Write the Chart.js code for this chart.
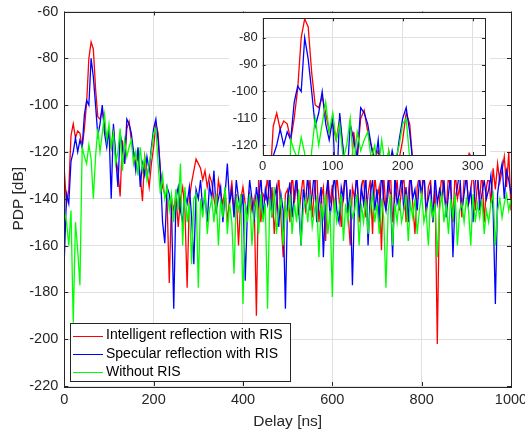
<!DOCTYPE html>
<html>
<head>
<meta charset="utf-8">
<script src="https://cdn.jsdelivr.net/npm/chart.js@4.4.1/dist/chart.umd.min.js"></script>
<style>
  html, body { margin: 0; padding: 0; background: #fff; }
  #wrap { position: relative; width: 525px; height: 435px; }
  #mainChart { position: absolute; left: 0; top: 0; }
  #insetChart { position: absolute; left: 229px; top: 13px; background: #fff; }
</style>
</head>
<body>
<div id="wrap">
  <canvas id="mainChart" width="525" height="435"></canvas>
  <canvas id="insetChart" width="261" height="167"></canvas>
</div>
<script>
// PDP samples every 5 ns, 0 .. 1000 ns
const sampleStep = 5;
const seriesNames = ['Intelligent reflection with RIS', 'Specular reflection with RIS', 'Without RIS'];
const seriesColors = ['#ff0000', '#0000ff', '#00ff00'];
const xTicks = [0, 200, 400, 600, 800, 1000];
const yTicks = [-220, -200, -180, -160, -140, -120, -100, -80, -60];
const insetXTicks = [0, 100, 200, 300];
const insetYTicks = [-120, -110, -100, -90, -80];

const pdpIntelligent = [
  -128, -142, -136, -113, -108, -114, -111, -112, -118, -110,
  -99, -80, -73, -76, -93, -105, -106, -102, -108, -115,
  -112, -118, -110, -122, -128, -139, -115, -125, -110, -107,
  -115, -120, -125, -122, -130, -141, -122, -128, -135, -125,
  -118, -108, -112, -128, -135, -138, -140, -176, -140, -145,
  -138, -152, -140, -135, -145, -178, -140, -133, -128, -123,
  -125, -127, -132, -128, -135, -130, -133, -140, -145, -132,
  -138, -142, -136, -150, -140, -133, -145, -138, -160, -140,
  -135, -142, -148, -138, -145, -140, -190, -132, -150, -138,
  -140, -130, -145, -135, -155, -142, -130, -148, -165, -138,
  -136, -150, -128, -142, -133, -147, -138, -130, -145, -140,
  -132, -148, -136, -128, -150, -140, -135, -158, -130, -142,
  -134, -146, -130, -140, -152, -136, -128, -145, -160, -135,
  -140, -128, -150, -136, -130, -148, -138, -132, -155, -130,
  -140, -135, -162, -130, -145, -138, -128, -150, -140, -132,
  -145, -136, -130, -150, -138, -128, -142, -155, -135, -130,
  -140, -128, -148, -135, -132, -150, -135, -202, -140, -130,
  -138, -145, -130, -136, -150, -128, -140, -135, -148, -132,
  -130, -142, -136, -128, -145, -133, -140, -128, -150, -135,
  -130, -142, -127, -136, -125, -133, -128, -122, -135, -120, -145
];

const pdpSpecular = [
  -166, -138, -142, -124, -120, -114, -120, -115, -118, -104,
  -98, -100, -80, -88, -100, -113, -108, -100, -112, -118,
  -110, -140, -108, -122, -135, -112, -118, -125, -106, -108,
  -112, -120, -128, -118, -135, -125, -130, -122, -128, -118,
  -110, -106, -115, -128, -150, -159, -135, -138, -145, -187,
  -140, -135, -145, -150, -138, -142, -135, -148, -168, -136,
  -140, -132, -145, -138, -150, -134, -140, -128, -145, -140,
  -135, -150, -138, -125, -142, -136, -148, -132, -140, -145,
  -138, -175, -145, -132, -140, -150, -135, -142, -130, -148,
  -136, -142, -130, -148, -140, -135, -152, -138, -145, -187,
  -140, -133, -148, -138, -130, -145, -160, -136, -142, -130,
  -145, -138, -128, -150, -142, -135, -165, -140, -132, -148,
  -138, -130, -145, -150, -135, -140, -128, -146, -136, -177,
  -140, -130, -148, -135, -142, -130, -160, -138, -132, -145,
  -136, -150, -128, -140, -145, -132, -138, -165, -130, -142,
  -138, -130, -145, -135, -150, -128, -140, -136, -145, -132,
  -138, -128, -145, -140, -135, -150, -130, -142, -136, -140,
  -132, -148, -138, -130, -165, -140, -135, -128, -145, -138,
  -130, -142, -136, -150, -133, -128, -145, -138, -132, -140,
  -136, -130, -145, -185, -138, -130, -125, -140, -128, -132, -138
];

const pdpWithout = [
  -145, -150, -160, -145, -193, -150, -162, -177, -118, -122,
  -125, -117, -123, -140, -122, -110, -120, -112, -104, -115,
  -108, -118, -112, -125, -120, -110, -128, -115, -122, -118,
  -115, -125, -120, -130, -118, -128, -122, -132, -125, -120,
  -112, -110, -125, -138, -130, -140, -135, -145, -138, -150,
  -136, -145, -125, -160, -135, -150, -142, -168, -140, -138,
  -178, -140, -148, -136, -155, -145, -140, -150, -138, -160,
  -140, -148, -135, -155, -142, -150, -172, -140, -145, -138,
  -185, -142, -150, -138, -160, -145, -140, -155, -138, -150,
  -142, -187, -140, -148, -135, -155, -145, -140, -160, -142,
  -148, -138, -155, -142, -150, -136, -160, -145, -140, -150,
  -138, -152, -145, -140, -165, -142, -148, -138, -155, -145,
  -182, -140, -150, -145, -138, -158, -142, -150, -140, -148,
  -145, -138, -160, -142, -150, -140, -155, -145, -138, -150,
  -142, -155, -140, -148, -178, -145, -138, -160, -142, -150,
  -140, -150, -145, -138, -158, -142, -148, -140, -155, -145,
  -138, -150, -145, -160, -140, -148, -142, -165, -145, -138,
  -150, -142, -155, -140, -148, -138, -160, -145, -142, -150,
  -140, -145, -160, -138, -150, -142, -148, -140, -155, -145,
  -150, -142, -138, -160, -145, -140, -148, -142, -138, -145, -140
];

const seriesValues = [pdpIntelligent, pdpSpecular, pdpWithout];

const FONT = "'Liberation Sans', Arial, Helvetica, sans-serif";
const axisColor = '#262626';
const gridColor = '#e0e0e0';

function toPoints(values) {
  return values.map((v, i) => ({ x: i * sampleStep, y: v }));
}

function buildDatasets() {
  // MATLAB plot order: the last series ends up on top
  return seriesValues.map((vals, i) => ({
    label: seriesNames[i],
    data: toPoints(vals),
    borderColor: seriesColors[i],
    borderWidth: 1.3,
    pointRadius: 0,
    tension: 0,
    order: seriesValues.length - i
  }));
}

function fixedTicks(list) {
  return function (scale) {
    scale.ticks = list.map(v => ({ value: v }));
  };
}

// box around the axes with inward tick marks
const boxPlugin = {
  id: 'matlabBox',
  afterDraw(chart, args, opts) {
    const { ctx, chartArea: a, scales: { x, y } } = chart;
    const t = opts.tick || 4;
    ctx.save();
    ctx.strokeStyle = axisColor;
    ctx.lineWidth = 1;
    ctx.beginPath();
    x.ticks.forEach(tk => {
      const px = Math.round(x.getPixelForValue(tk.value)) + 0.5;
      ctx.moveTo(px, a.bottom); ctx.lineTo(px, a.bottom - t);
      ctx.moveTo(px, a.top); ctx.lineTo(px, a.top + t);
    });
    y.ticks.forEach(tk => {
      const py = Math.round(y.getPixelForValue(tk.value)) + 0.5;
      ctx.moveTo(a.left, py); ctx.lineTo(a.left + t, py);
      ctx.moveTo(a.right, py); ctx.lineTo(a.right - t, py);
    });
    ctx.stroke();
    ctx.strokeRect(Math.round(a.left) + 0.5, Math.round(a.top) + 0.5,
      Math.round(a.right - a.left), Math.round(a.bottom - a.top));
    ctx.restore();
  }
};

// legend box in the lower left corner
const legendPlugin = {
  id: 'boxLegend',
  afterDraw(chart, args, opts) {
    if (!opts.show) return;
    const { ctx } = chart;
    const bx = 70, by = 323, bw = 220, bh = 58;
    ctx.save();
    ctx.fillStyle = '#fff';
    ctx.fillRect(bx, by, bw, bh);
    ctx.strokeStyle = axisColor;
    ctx.lineWidth = 1;
    ctx.strokeRect(bx + 0.5, by + 0.5, bw, bh);
    ctx.font = '14px ' + FONT;
    ctx.textBaseline = 'middle';
    seriesNames.forEach((name, i) => {
      const ry = by + 12.5 + i * 18.3;
      ctx.strokeStyle = seriesColors[i];
      ctx.beginPath();
      ctx.moveTo(bx + 3, Math.round(ry) + 0.5);
      ctx.lineTo(bx + 33, Math.round(ry) + 0.5);
      ctx.stroke();
      ctx.fillStyle = '#000';
      ctx.fillText(name, bx + 36, ry);
    });
    ctx.restore();
  }
};

function fitAxis(size, horizontal) {
  return function (scale) {
    if (horizontal) scale.height = size; else scale.width = size;
    scale.paddingLeft = scale.paddingRight = scale.paddingTop = scale.paddingBottom = 0;
  };
}

function initMainChart() {
  const ctx = document.getElementById('mainChart');
  return new Chart(ctx, {
    type: 'line',
    data: { datasets: buildDatasets() },
    plugins: [boxPlugin, legendPlugin],
    options: {
      responsive: false,
      animation: false,
      events: [],
      layout: { padding: { left: 0, right: 14, top: 11.5, bottom: 0 } },
      plugins: {
        legend: { display: false },
        tooltip: { enabled: false },
        matlabBox: { tick: 4 },
        boxLegend: { show: true }
      },
      scales: {
        x: {
          type: 'linear', min: 0, max: 1000,
          afterBuildTicks: fixedTicks(xTicks),
          afterFit: fitAxis(49, true),
          grid: { color: gridColor, drawTicks: false },
          border: { display: false },
          ticks: {
            padding: 5, color: axisColor, maxRotation: 0, autoSkip: false,
            font: { family: FONT, size: 14.5 },
            callback: v => String(v)
          },
          title: {
            display: true, text: 'Delay [ns]', color: axisColor,
            font: { family: FONT, size: 15.5 }, padding: { top: 0, bottom: 4 }
          }
        },
        y: {
          type: 'linear', min: -220, max: -60,
          afterBuildTicks: fixedTicks(yTicks),
          afterFit: fitAxis(64.3, false),
          grid: { color: gridColor, drawTicks: false },
          border: { display: false },
          ticks: {
            padding: 6, color: axisColor, autoSkip: false,
            font: { family: FONT, size: 14.5 },
            callback: v => String(v)
          },
          title: {
            display: true, text: 'PDP [dB]', color: axisColor,
            font: { family: FONT, size: 15.5 }, padding: { top: 9, bottom: 0 }
          }
        }
      }
    }
  });
}

function initInsetChart() {
  const ctx = document.getElementById('insetChart');
  return new Chart(ctx, {
    type: 'line',
    data: { datasets: buildDatasets() },
    plugins: [boxPlugin],
    options: {
      responsive: false,
      animation: false,
      events: [],
      layout: { padding: { left: 0, right: 5, top: 5.3, bottom: 0 } },
      plugins: {
        legend: { display: false },
        tooltip: { enabled: false },
        matlabBox: { tick: 3 }
      },
      scales: {
        x: {
          type: 'linear', min: 0, max: 317.6,
          afterBuildTicks: fixedTicks(insetXTicks),
          afterFit: fitAxis(25, true),
          grid: { color: gridColor, drawTicks: false },
          border: { display: false },
          ticks: {
            padding: 4, color: axisColor, maxRotation: 0, autoSkip: false,
            font: { family: FONT, size: 13 },
            callback: v => String(v)
          }
        },
        y: {
          type: 'linear', min: -123.6, max: -72.8,
          afterBuildTicks: fixedTicks(insetYTicks),
          afterFit: fitAxis(33.7, false),
          grid: { color: gridColor, drawTicks: false },
          border: { display: false },
          ticks: {
            padding: 5, color: axisColor, autoSkip: false,
            font: { family: FONT, size: 13 },
            callback: v => String(v)
          }
        }
      }
    }
  });
}

initMainChart();
initInsetChart();
</script>
</body>
</html>
